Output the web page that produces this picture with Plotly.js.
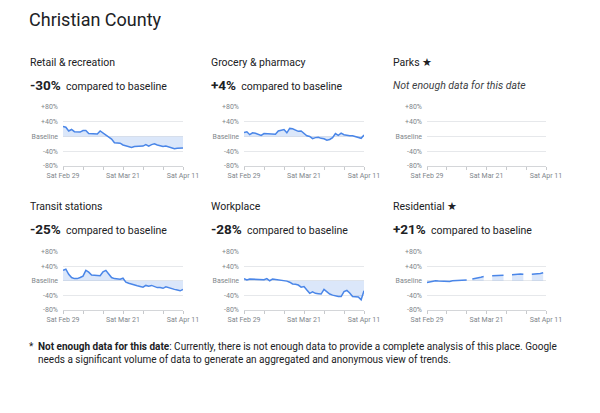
<!DOCTYPE html>
<html>
<head>
<meta charset="utf-8">
<script src="https://cdn.plot.ly/plotly-3.0.1.min.js"></script>
<style>
html,body{margin:0;padding:0;background:#fff;}
#chart{width:600px;height:413px;}
</style>
</head>
<body>
<div id="chart"></div>
<script>
// ---- data ----
var dates = ['2020-02-29','2020-03-01','2020-03-02','2020-03-03','2020-03-04','2020-03-05','2020-03-06','2020-03-07',
'2020-03-08','2020-03-09','2020-03-10','2020-03-11','2020-03-12','2020-03-13','2020-03-14','2020-03-15','2020-03-16',
'2020-03-17','2020-03-18','2020-03-19','2020-03-20','2020-03-21','2020-03-22','2020-03-23','2020-03-24','2020-03-25',
'2020-03-26','2020-03-27','2020-03-28','2020-03-29','2020-03-30','2020-03-31','2020-04-01','2020-04-02','2020-04-03',
'2020-04-04','2020-04-05','2020-04-06','2020-04-07','2020-04-08','2020-04-09','2020-04-10','2020-04-11'];

var retail = [27,25,15,19,13,12,12,16,16,8,8,6,7,15,10,5,-2,-7,-17,-18,-18,-23,-25,-27,-30,-27,-26,-27,-26,-22,-26,-22,-20,-23,-25,-27,-26,-29,-30,-33,-32,-32,-31];
var grocery = [11,13,5,10,9,7,3,8,7,6,6,6,15,18,19,10,22,21,17,14,15,9,2,0,-6,-3,-2,-5,-6,-10,-8,-3,8,3,9,5,3,2,2,0,-3,-5,4];
var parks = [];
var transit = [29,32,18,9,6,6,9,13,29,24,16,15,14,14,25,29,19,9,6,4,4,7,-4,-7,-10,-12,-14,-16,-18,-13,-15,-13,-16,-19,-19,-21,-17,-20,-23,-24,-26,-28,-24];
var workplace = [6,2,5,5,5,4,4,3,6,0,5,4,3,2,1,-1,-4,-9,-10,-12,-18,-16,-26,-35,-31,-35,-36,-37,-24,-31,-37,-40,-43,-44,-44,-30,-27,-34,-44,-44,-45,-53,-28];
var residential = [-5,-3,-1,0,-1,-1,-2,-3,-2,0,0,1,2,2,2,null,5,6,8,10,12,null,null,14,14,15,15,15,null,null,17,18,18,19,18,null,null,18,18,19,20,22,null];

var panelTitles = ['Retail &amp; recreation','Grocery &amp; pharmacy','Parks \u2605','Transit stations','Workplace','Residential \u2605'];
var panelChange = ['-30%','+4%',null,'-25%','-28%','+21%'];
var seriesList = [retail, grocery, parks, transit, workplace, residential];

var xTickVals = ['2020-02-29','2020-03-07','2020-03-14','2020-03-21','2020-03-28','2020-04-04','2020-04-11'];
var xTickText = ['Sat Feb 29','','','Sat Mar 21','','','Sat Apr 11'];
var yTickVals = [-80,-40,0,40,80];
var yTickText = ['-80%','-40%','Baseline','+40%','+80%'];

// ---- layout helpers ----
var W = 600, H = 413;
function px(x){ return x / W; }
function py(y){ return 1 - y / H; }

var FONT = 'Roboto, "Open Sans", sans-serif';
var LINE = '#4a86e8';
var FILL = 'rgba(74,134,232,0.2)';
var GRID = '#e6e8eb';
var TICK = '#80868b';
var TEXT = '#202124';

var colX = [[63,183],[244,364],[427,546]];
var rowY = [[107,166],[252,309.5]];
var textX = [28,209,391];
var titleY = [62,206];
var changeY = [85,229];

var layout = {
  width: W, height: H,
  margin: {l:0,r:0,t:0,b:0},
  paper_bgcolor: '#fff', plot_bgcolor: '#fff',
  showlegend: false,
  font: {family: FONT, color: TEXT},
  annotations: []
};
var traces = [];

// split a series into runs of consecutive non-null values
function runs(vals) {
  var out = [], cur = null;
  for (var k = 0; k < vals.length; k++) {
    if (vals[k] === null) { cur = null; continue; }
    if (!cur) { cur = {x: [], y: []}; out.push(cur); }
    cur.x.push(dates[k]); cur.y.push(vals[k]);
  }
  return out;
}

for (var i = 0; i < 6; i++) {
  var c = i % 3, r = Math.floor(i / 3);
  var n = i + 1;
  var xa = 'xaxis' + (n === 1 ? '' : n), ya = 'yaxis' + (n === 1 ? '' : n);
  var xr = 'x' + (n === 1 ? '' : n), yr = 'y' + (n === 1 ? '' : n);
  layout[xa] = {
    domain: [px(colX[c][0]), px(colX[c][1])],
    anchor: yr, type: 'date',
    range: ['2020-02-29', '2020-04-11'],
    tickmode: 'array', tickvals: xTickVals, ticktext: xTickText,
    ticks: 'outside', ticklen: 3, tickcolor: '#c8cacd', tickwidth: 1,
    showline: true, linecolor: '#d4d6d9', linewidth: 1,
    showgrid: false, zeroline: false,
    tickfont: {size: 7, color: TICK, family: FONT},
    fixedrange: true
  };
  layout[ya] = {
    domain: [py(rowY[r][1]), py(rowY[r][0])],
    anchor: xr, range: [-80, 80],
    tickmode: 'array', tickvals: yTickVals, ticktext: yTickText,
    ticks: '', showgrid: true, gridcolor: GRID, gridwidth: 1,
    zeroline: false, showline: false,
    tickfont: {size: 7, color: TICK, family: FONT},
    ticklabelstandoff: 4,
    fixedrange: true
  };
  var segs = runs(seriesList[i]);
  if (segs.length === 0) {
    traces.push({type: 'scatter', mode: 'lines', x: [], y: [], xaxis: xr, yaxis: yr, hoverinfo: 'skip'});
  }
  segs.forEach(function(s) {
    traces.push({
      type: 'scatter', mode: 'lines',
      x: s.x, y: s.y,
      xaxis: xr, yaxis: yr,
      line: {color: LINE, width: 1.5},
      fill: 'tozeroy', fillcolor: FILL,
      hoverinfo: 'skip'
    });
  });
  layout.annotations.push({
    xref: 'paper', yref: 'paper', x: px(textX[c]), y: py(titleY[r]),
    xanchor: 'left', yanchor: 'middle', showarrow: false,
    text: panelTitles[i], font: {size: 10.5, color: TEXT, family: FONT}
  });
  var chText = panelChange[i] !== null
    ? '<b style="font-size:13.5px">' + panelChange[i] + '</b>  compared to baseline'
    : '<i>Not enough data for this date</i>';
  layout.annotations.push({
    xref: 'paper', yref: 'paper', x: px(textX[c]), y: py(changeY[r]),
    xanchor: 'left', yanchor: 'middle', showarrow: false,
    text: chText, font: {size: 10.5, color: panelChange[i] !== null ? TEXT : '#3c4043', family: FONT}
  });
}

layout.annotations.push({
  xref: 'paper', yref: 'paper', x: px(27), y: py(19),
  xanchor: 'left', yanchor: 'middle', showarrow: false,
  text: 'Christian County', font: {size: 18, color: TEXT, family: FONT}
});
layout.annotations.push({
  xref: 'paper', yref: 'paper', x: px(27), y: py(346),
  xanchor: 'left', yanchor: 'middle', showarrow: false,
  text: '*', font: {size: 10, color: TEXT, family: FONT}
});
layout.annotations.push({
  xref: 'paper', yref: 'paper', x: px(36), y: py(346),
  xanchor: 'left', yanchor: 'middle', showarrow: false,
  text: '<b>Not enough data for this date</b>: Currently, there is not enough data to provide a complete analysis of this place. Google',
  font: {size: 10, color: TEXT, family: FONT}
});
layout.annotations.push({
  xref: 'paper', yref: 'paper', x: px(36), y: py(359),
  xanchor: 'left', yanchor: 'middle', showarrow: false,
  text: 'needs a significant volume of data to generate an aggregated and anonymous view of trends.',
  font: {size: 10, color: TEXT, family: FONT}
});

Plotly.newPlot('chart', traces, layout, {displayModeBar: false, staticPlot: true});
</script>
</body>
</html>
